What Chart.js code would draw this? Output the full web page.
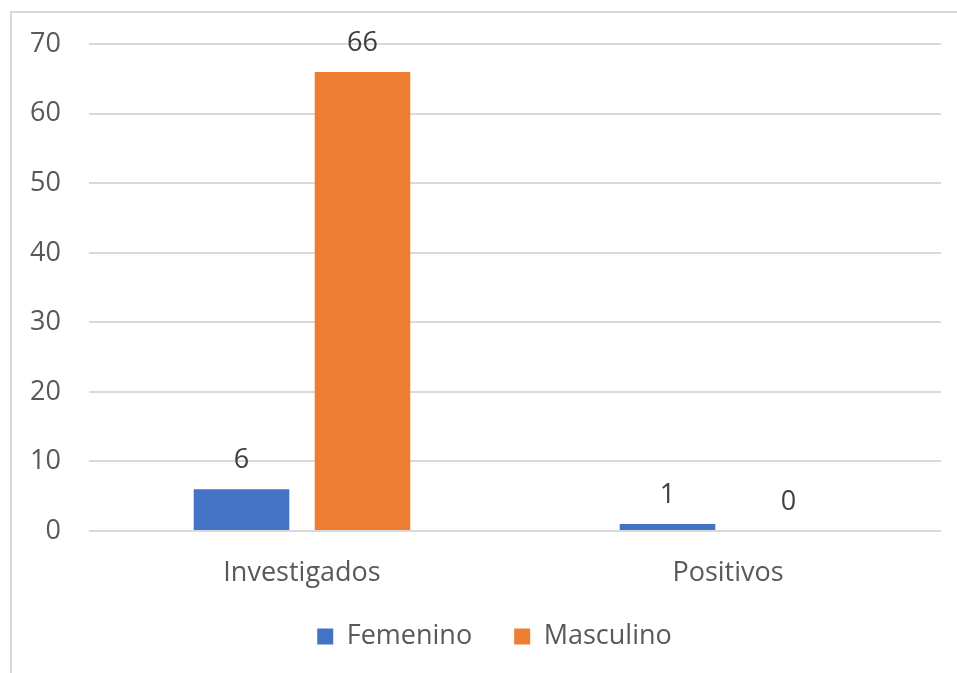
<!DOCTYPE html>
<html>
<head>
<meta charset="utf-8">
<script src="https://cdn.jsdelivr.net/npm/chart.js@4.4.0/dist/chart.umd.min.js"></script>
<style>
  html, body { margin: 0; padding: 0; background: #fff; overflow: hidden; }
  #frame {
    position: absolute; left: 10px; top: 11px;
    width: 1000px; height: 1000px;
    border: 2px solid #d9d9d9;
  }
  #wrap { position: absolute; left: 0; top: 0; width: 957px; height: 673px; }
</style>
</head>
<body>
<div id="frame"></div>
<div id="wrap"><canvas id="barChart"></canvas></div>
<script>
// data
const categories = ["Investigados", "Positivos"];
const femenino = [6, 1];
const masculino = [66, 0];
const yTicks = [0, 10, 20, 30, 40, 50, 60, 70];

const FONT = "'Open Sans', 'Noto Sans', sans-serif";
const SIZE = 27;

// labels above bars
const barLabels = {
  id: "barLabels",
  afterDatasetsDraw(chart) {
    const ctx = chart.ctx;
    ctx.save();
    ctx.font = SIZE + "px " + FONT;
    ctx.fillStyle = "#404040";
    ctx.textAlign = "center";
    ctx.textBaseline = "middle";
    chart.data.datasets.forEach((ds, i) => {
      chart.getDatasetMeta(i).data.forEach((bar, j) => {
        ctx.fillText(String(ds.data[j]), bar.x, bar.y - 29);
      });
    });
    ctx.restore();
  }
};

// nudge the legend box a little (up and right)
const legendNudge = {
  id: "legendNudge",
  afterLayout(chart) {
    const lg = chart.legend;
    if (!lg) return;
    lg.top -= 8;
    lg.bottom -= 8;
    lg.left += 24;
    lg.right += 24;
  }
};

new Chart(document.getElementById("barChart"), {
  type: "bar",
  data: {
    labels: categories,
    datasets: [
      {
        label: "Femenino",
        data: femenino,
        backgroundColor: "#4472C4",
        categoryPercentage: 0.568,
        barPercentage: 0.79
      },
      {
        label: "Masculino",
        data: masculino,
        backgroundColor: "#ED7D31",
        categoryPercentage: 0.568,
        barPercentage: 0.79
      }
    ]
  },
  options: {
    responsive: true,
    maintainAspectRatio: false,
    animation: false,
    layout: {
      padding: { top: 44, right: 16, left: 0, bottom: 5 }
    },
    plugins: {
      legend: {
        position: "bottom",
        labels: {
          font: { size: SIZE, family: FONT },
          color: "#595959",
          boxWidth: 16,
          boxHeight: 16,
          padding: 42
        }
      },
      tooltip: { enabled: false }
    },
    scales: {
      x: {
        afterFit(scale) { scale.height = 58; },
        grid: { display: false },
        border: { display: false },
        ticks: {
          font: { size: SIZE, family: FONT },
          color: "#595959",
          padding: 18
        }
      },
      y: {
        min: 0,
        max: 70,
        afterFit(scale) { scale.width = 89; },
        afterBuildTicks(scale) {
          scale.ticks = yTicks.map(v => ({ value: v }));
        },
        grid: {
          color: "#d9d9d9",
          lineWidth: 2,
          drawTicks: false
        },
        border: { display: false },
        ticks: {
          font: { size: SIZE, family: FONT },
          color: "#595959",
          padding: 28
        }
      }
    }
  },
  plugins: [barLabels, legendNudge]
});
</script>
</body>
</html>
